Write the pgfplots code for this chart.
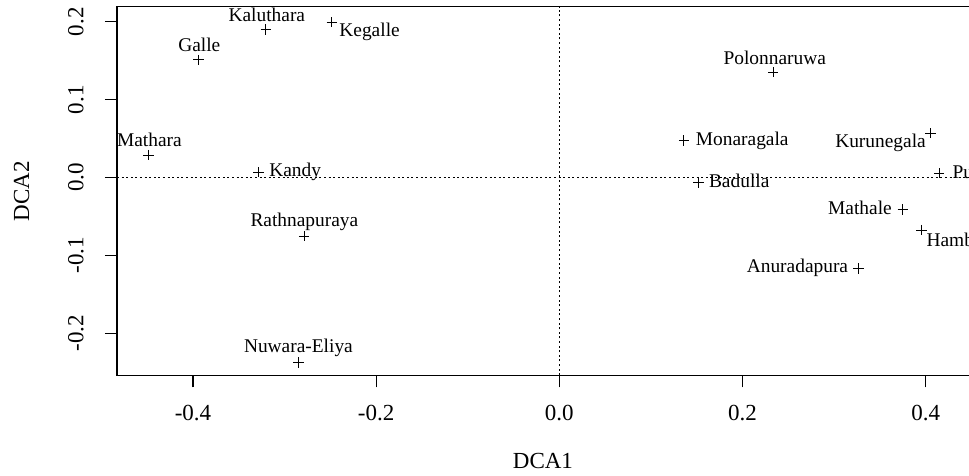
\documentclass[border=0pt]{standalone}
\usepackage{fontspec}
\setmainfont{Liberation Serif}
\usepackage{pgfplots}
\pgfplotsset{compat=1.18}
\pgfplotstableread{
x y
-0.3205 0.1900
-0.2485 0.1995
-0.3940 0.1510
-0.4487 0.0289
-0.3286 0.0067
-0.2787 -0.0752
-0.2850 -0.2380
0.2336 0.1352
0.1361 0.0473
0.4054 0.0568
0.4148 0.0054
0.1518 -0.0067
0.3749 -0.0409
0.3956 -0.0675
0.3268 -0.1167
}\sites
\begin{document}
\begin{tikzpicture}
\begin{axis}[
  scale only axis, width=436.4pt, height=184.3pt,
  xmin=-0.483, xmax=0.47, ymin=-0.2542, ymax=0.2195,
  clip=false,
  axis line style={line width=0.6pt},
  tick pos=left, tick align=outside, major tick length=6pt,
  every tick/.style={line width=0.6pt, black},
  xtick={-0.4,-0.2,0,0.2,0.4}, ytick={-0.2,-0.1,0,0.1,0.2},
  /pgf/number format/.cd, fixed, fixed zerofill, precision=1, assume math mode=true, /pgfplots/.cd,
  tick label style={font=\fontsize{11.5}{13}\selectfont, inner sep=0pt},
  xticklabel style={anchor=north},
  xticklabel shift=8.8pt,
  yticklabel style={rotate=90, anchor=south},
  yticklabel shift=10.4pt,
  xlabel={DCA1}, ylabel={DCA2},
  label style={font=\fontsize{11.5}{13}\selectfont},
  xlabel style={at={([yshift=-42.6pt]axis description cs:0.488,0)}, anchor=center},
  ylabel style={at={([xshift=-47.7pt]axis description cs:0,0.5)}, anchor=center},
]
\addplot[line width=0.5pt, dash pattern=on 1pt off 1.3pt] coordinates {(0,-0.2542) (0,0.2195)};
\addplot[line width=0.5pt, dash pattern=on 1pt off 1.3pt] coordinates {(-0.483,0) (0.47,0)};
\addplot[only marks, mark=+, mark size=2.6pt, mark options={line width=0.5pt, black}] table {\sites};
\begin{scope}[every node/.style={anchor=base, inner sep=0pt, font=\fontsize{9.7}{11}\selectfont}]
\node at (axis cs:-0.3194,0.2003) {Kaluthara};
\node at (axis cs:-0.2072,0.1810) {Kegalle};
\node at (axis cs:-0.3931,0.1617) {Galle};
\node at (axis cs:-0.4476,0.0396) {Mathara};
\node at (axis cs:-0.2885,0.0010) {Kandy};
\node at (axis cs:-0.2784,-0.0632) {Rathnapuraya};
\node at (axis cs:-0.2849,-0.2247) {Nuwara-Eliya};
\node at (axis cs:0.2352,0.1455) {Polonnaruwa};
\node at (axis cs:0.1997,0.0409) {Monaragala};
\node at (axis cs:0.3507,0.0383) {Kurunegala};
\node at (axis cs:0.4671,-0.0010) {Puttalam};
\node at (axis cs:0.1964,-0.0131) {Badulla};
\node at (axis cs:0.3283,-0.0473) {Mathale};
\node at (axis cs:0.4527,-0.0889) {Hambantota};
\node at (axis cs:0.2600,-0.1218) {Anuradapura};
\end{scope}
\end{axis}
\pgfresetboundingbox
\useasboundingbox (-58.5pt,-50.35pt) rectangle (426pt,187.65pt);
\end{tikzpicture}
\end{document}
